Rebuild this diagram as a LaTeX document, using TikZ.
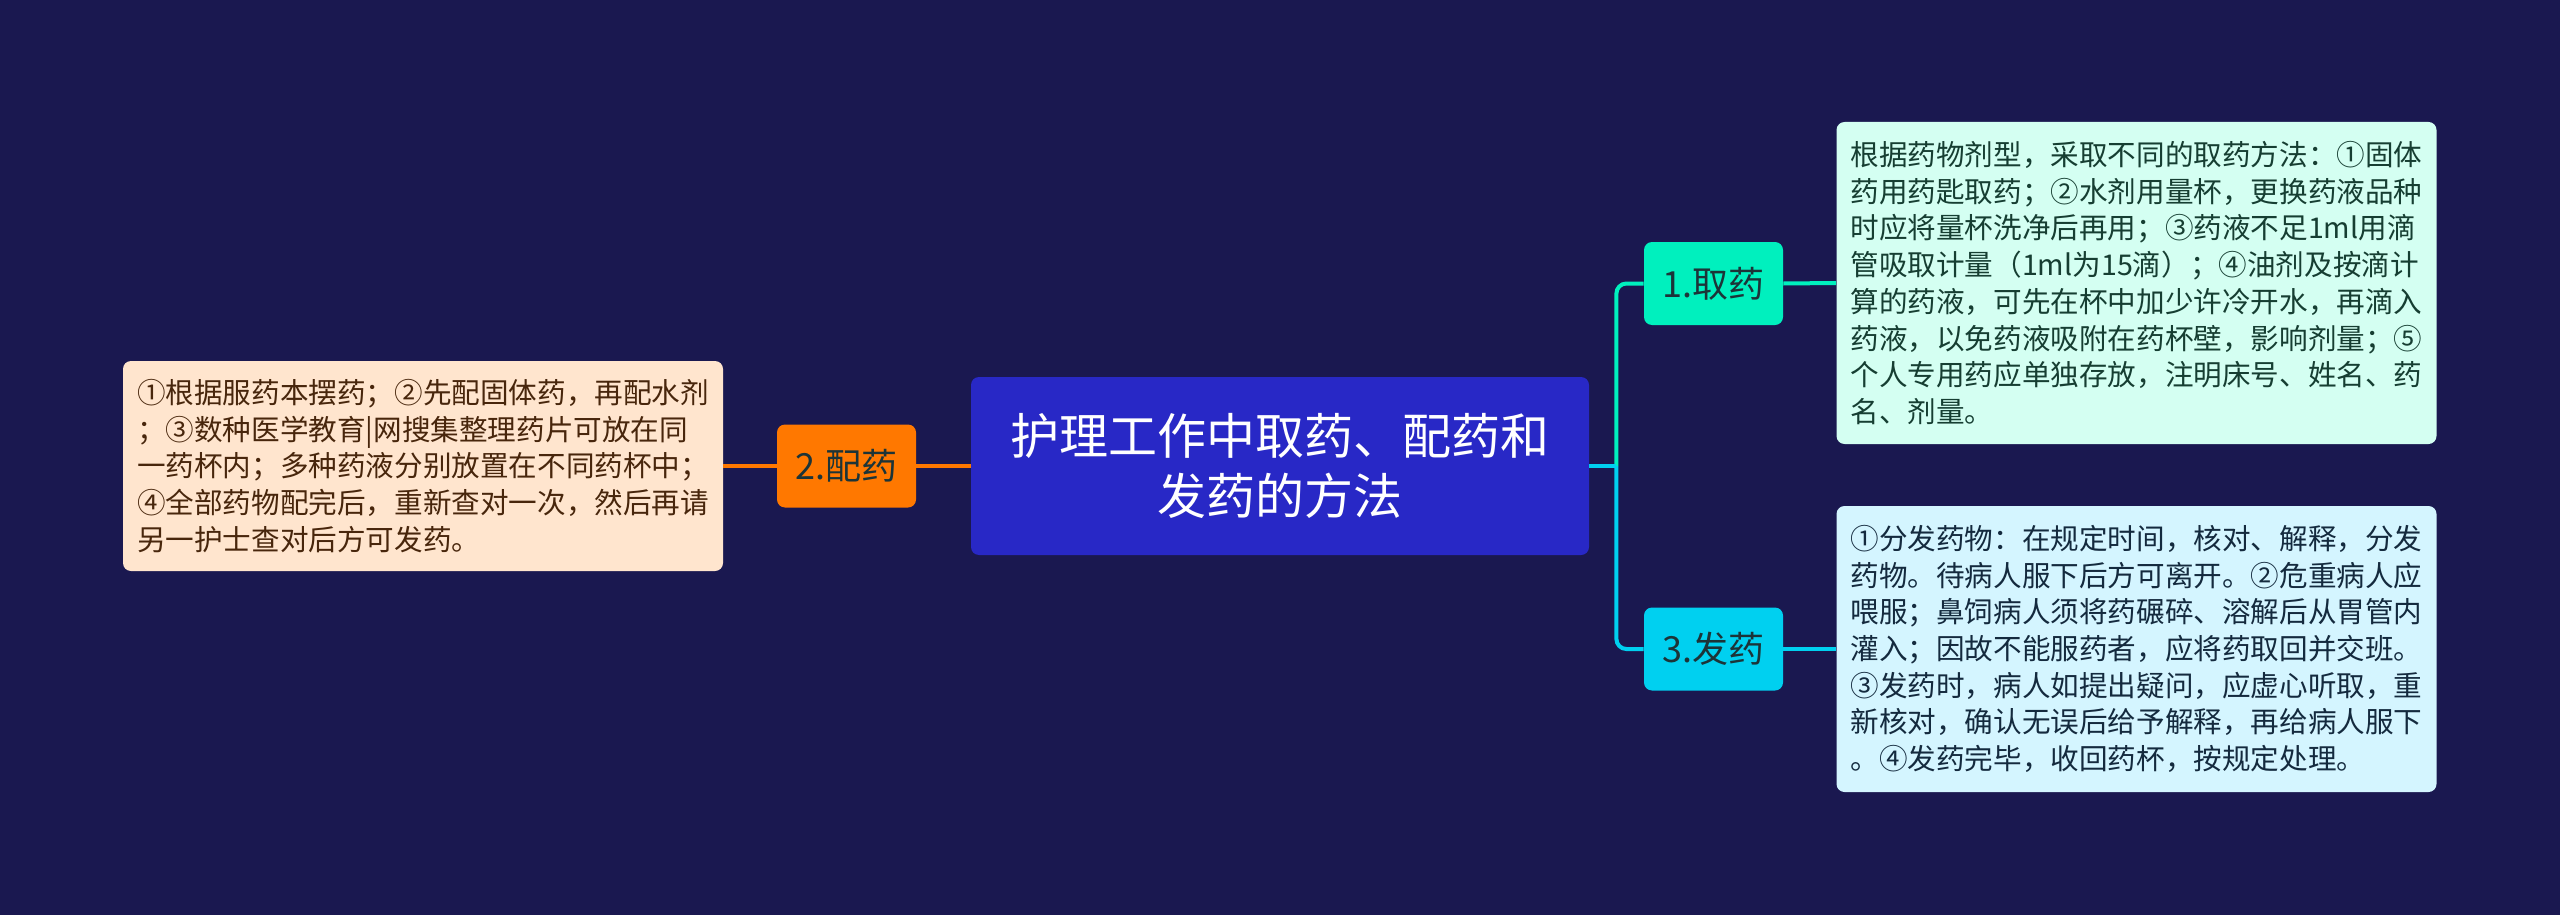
\documentclass[tikz,border=0pt]{standalone}
\usepackage{fontspec}
\setmainfont{Noto Sans CJK SC}
\usepackage{xcolor}
\definecolor{mapnavy}{RGB}{26,24,80}
\definecolor{mapblue}{RGB}{40,40,198}
\definecolor{mapteal}{RGB}{0,240,190}
\definecolor{mapcyan}{RGB}{0,208,240}
\definecolor{maporange}{RGB}{255,120,0}
\definecolor{mintfill}{RGB}{212,255,242}
\definecolor{icefill}{RGB}{212,245,255}
\definecolor{peachfill}{RGB}{255,229,206}
\definecolor{mintink}{RGB}{22,62,50}
\definecolor{iceink}{RGB}{20,42,62}
\definecolor{peachink}{RGB}{72,38,12}
\definecolor{branchink}{RGB}{28,52,56}

\begin{document}
\begin{tikzpicture}[x=0.5pt,y=-0.5pt,
    topic/.style={rounded corners=4pt,fill=mapblue,text=white,align=center,
      minimum width=309pt,minimum height=89pt,
      font=\fontsize{24.5pt}{30pt}\selectfont},
    branch/.style={rounded corners=4pt,minimum width=69.5pt,minimum height=41.5pt,
      inner sep=0pt,text=branchink,font=\fontsize{18pt}{22pt}\selectfont},
    notebox/.style={rounded corners=4pt,align=left,minimum width=299.5pt,
      inner sep=7pt,font=\fontsize{14.3pt}{18.35pt}\selectfont},
    link/.style={line width=2pt}]
  % background
  \fill[mapnavy] (0,0) rectangle (2560,915);

  % central topic
  \node[topic] (title) at (1280,466) {护理工作中取药、配药和\\发药的方法};

  % branches
  \node[branch,fill=mapteal] (take) at (1713.5,283.5) {1.取药};
  \node[branch,fill=mapcyan] (give) at (1713.5,649) {3.发药};
  \node[branch,fill=maporange] (mix) at (846.5,466) {2.配药};

  % notes
  \node[notebox,fill=mintfill,text=mintink,minimum height=161pt] (takenote) at (2136.5,283)
    {根据药物剂型，采取不同的取药方法：①固体\\
     药用药匙取药；②水剂用量杯，更换药液品种\\
     时应将量杯洗净后再用；③药液不足1ml用滴\\
     管吸取计量（1ml为15滴）；④油剂及按滴计\\
     算的药液，可先在杯中加少许冷开水，再滴入\\
     药液，以免药液吸附在药杯壁，影响剂量；⑤\\
     个人专用药应单独存放，注明床号、姓名、药\\
     名、剂量。};
  \node[notebox,fill=icefill,text=iceink,minimum height=143pt] (givenote) at (2136.5,649)
    {①分发药物：在规定时间，核对、解释，分发\\
     药物。待病人服下后方可离开。②危重病人应\\
     喂服；鼻饲病人须将药碾碎、溶解后从胃管内\\
     灌入；因故不能服药者，应将药取回并交班。\\
     ③发药时，病人如提出疑问，应虚心听取，重\\
     新核对，确认无误后给予解释，再给病人服下\\
     。④发药完毕，收回药杯，按规定处理。};
  \node[notebox,fill=peachfill,text=peachink,minimum height=105pt] (mixnote) at (423,466)
    {①根据服药本摆药；②先配固体药，再配水剂\\
     ；③数种医学教育|网搜集整理药片可放在同\\
     一药杯内；多种药液分别放置在不同药杯中；\\
     ④全部药物配完后，重新查对一次，然后再请\\
     另一护士查对后方可发药。};

  % connectors
  \coordinate (hub) at ([xshift=13.5pt]title.east);
  \draw[link,mapteal,rounded corners=5pt] (hub) |- (take.west);
  \draw[link,mapcyan,rounded corners=5pt] (hub) |- (give.west);
  \draw[link,mapcyan] (title.east) -- (hub);
  \draw[link,mapteal] (take.east) -- (takenote.west);
  \draw[link,mapcyan] (give.east) -- (givenote.west);
  \draw[link,maporange] (title.west) -- (mix.east);
  \draw[link,maporange] (mix.west) -- (mixnote.east);
\end{tikzpicture}
\end{document}
